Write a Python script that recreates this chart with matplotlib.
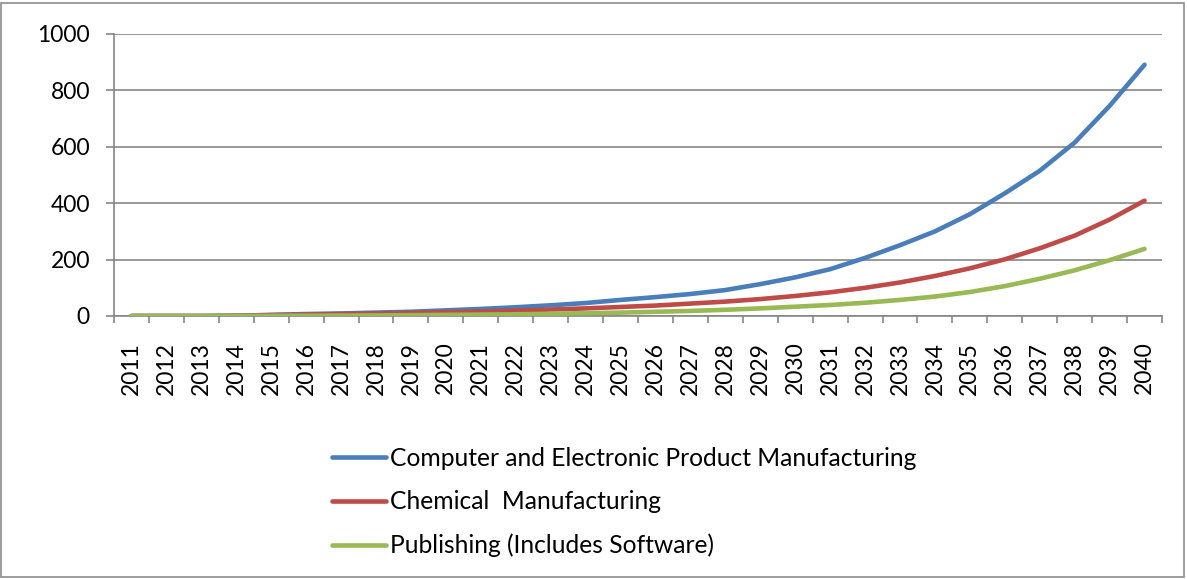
import matplotlib
matplotlib.use("Agg")
import matplotlib.pyplot as plt
from matplotlib.patches import Rectangle

years = [str(y) for y in range(2011, 2041)]
computer = [0, 0, 0, 1, 4, 7, 9, 12, 15, 20, 25, 31, 38, 46, 57, 67, 78, 92, 113, 137,
            166, 206, 251, 300, 361, 435, 515, 615, 745, 891]
chemical = [0, 0, 0, 1, 3, 5, 7, 9, 11, 14, 16, 19, 23, 27, 32, 37, 44, 51, 60, 71,
            84, 100, 119, 142, 169, 201, 240, 285, 342, 409]
publishing = [0, 0, 0, 0.3, 0.5, 1, 1.5, 2, 3, 4, 5, 6, 8, 10, 12, 15, 18, 22, 27, 33,
              39, 47, 57, 69, 85, 106, 132, 162, 198, 238]
series_names = ["Computer and Electronic Product Manufacturing",
                "Chemical  Manufacturing",
                "Publishing (Includes Software)"]
colors = ["#4A7EBB", "#BE4B48", "#98B954"]
yticks = [0, 200, 400, 600, 800, 1000]

plt.rcParams['font.family'] = ['Lato', 'DejaVu Sans']
W, H = 1187, 579
fig = plt.figure(figsize=(W / 100, H / 100), dpi=100)
fig.patches.append(Rectangle((1 / W, 2 / H), 1183 / W, 574 / H, transform=fig.transFigure,
                             fill=False, edgecolor="#8c8c8c", linewidth=1.2))

ax = fig.add_axes([114 / W, 1 - 316 / H, (1162 - 114) / W, (316 - 34) / H])
x = list(range(len(years)))
handles = []
for vals, c, name in zip([computer, chemical, publishing], colors, series_names):
    h, = ax.plot(x, vals, color=c, lw=3.3, solid_capstyle='round', label=name, zorder=3)
    handles.append(h)

ax.set_xlim(-0.5, len(years) - 0.5)
ax.set_ylim(0, 1000)
ax.set_yticks(yticks)
ax.set_yticklabels([str(v) for v in yticks])
ax.set_xticks([i - 0.5 for i in range(len(years) + 1)], minor=False)
ax.set_xticklabels([])
ax.set_xticks(x, minor=True)
ax.set_xticklabels(years, minor=True, rotation=90)
ax.tick_params(axis='x', which='minor', length=0, pad=18.5, labelsize=16.5)
ax.tick_params(axis='x', which='major', length=5.2, width=1.2, color="#868686")
ax.tick_params(axis='y', length=5.8, width=1.2, color="#868686", labelsize=16.5, pad=11.5)
ax.grid(axis='y', color="#868686", lw=1.2)
ax.set_axisbelow(True)
for s in ['top', 'right']:
    ax.spines[s].set_visible(False)
for s in ['left', 'bottom']:
    ax.spines[s].set_color("#868686")
    ax.spines[s].set_linewidth(1.2)

fig.legend(handles, series_names, loc='center left', bbox_to_anchor=(332 / W, 1 - 502 / H),
           frameon=False, borderpad=0, borderaxespad=0, handlelength=2.2, handletextpad=0.16,
           labelspacing=0.84, fontsize=17.7)

fig.savefig("out.png", dpi=100)
